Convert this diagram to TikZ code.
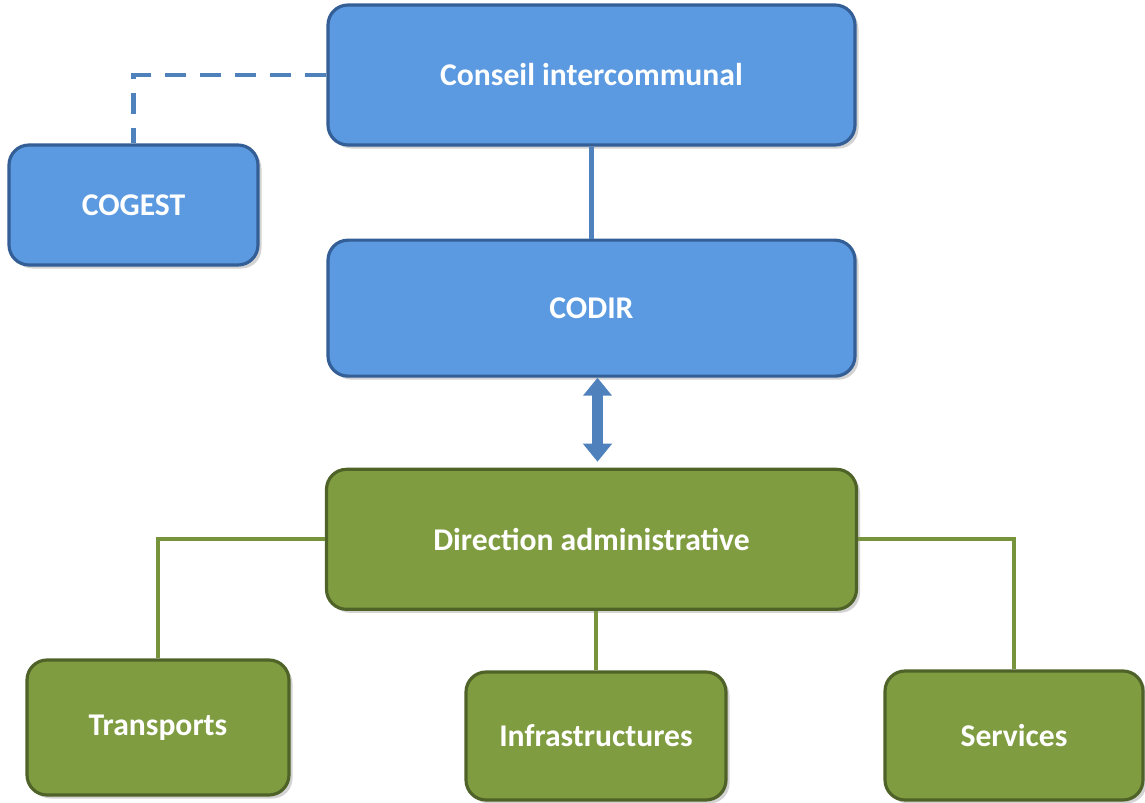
\documentclass[tikz,border=0pt]{standalone}
\usepackage{fontspec}
\setmainfont{Carlito}
\usepackage{tikz}
\usetikzlibrary{arrows.meta, positioning, calc, shadows}

\definecolor{boxblue}{RGB}{91,154,224}
\definecolor{edgeblue}{RGB}{52,94,150}
\definecolor{lineblue}{RGB}{79,129,189}
\definecolor{boxgreen}{RGB}{127,156,65}
\definecolor{edgegreen}{RGB}{79,98,40}
\definecolor{linegreen}{RGB}{119,147,60}

\begin{document}
\begin{tikzpicture}[node distance=1.8cm,
			box/.style={rounded corners=0.4cm,line width=1.8pt,text=white,
				font=\fontsize{18}{21}\selectfont\bfseries,
				drop shadow={opacity=0.35,shadow xshift=2pt,shadow yshift=-2pt}},
			blue node/.style={box,fill=boxblue,draw=edgeblue},
			green node/.style={box,fill=boxgreen,draw=edgegreen},
			blue line/.style={draw=lineblue,line width=2.4pt},
			green line/.style={draw=linegreen,line width=2.4pt}]
			
			\useasboundingbox (0,0) rectangle (22.9,-16.06);
			
			\node[blue node,minimum width=10.54cm,minimum height=2.8cm] (conseil) at (11.83,-1.5) {Conseil intercommunal};
			\node[blue node,minimum width=4.98cm,minimum height=2.4cm] (cogest) at (2.67,-4.1) {COGEST};
			\node[blue node,minimum width=10.54cm,minimum height=2.72cm] (codir) [below=1.84cm of conseil] {CODIR};
			\node[green node,minimum width=10.6cm,minimum height=2.8cm] (direction) [below=of codir] {Direction administrative};
			\node[green node,minimum width=5.24cm,minimum height=2.7cm] (transports) at (3.16,-14.55) {Transports};
			\node[green node,minimum width=5.2cm,minimum height=2.56cm] (infra) at (11.92,-14.72) {Infrastructures};
			\node[green node,minimum width=5.16cm,minimum height=2.58cm] (services) at (20.28,-14.71) {Services};
			
			% links
			\draw[blue line,dash pattern=on 12pt off 8pt] (conseil.west) -| (cogest.north);
			\draw[blue line] (conseil) -- (codir);
			\draw[draw=lineblue,line width=6.5pt,shorten >=0.12cm,
				{Triangle[width=0.56cm,length=0.36cm]}-{Triangle[width=0.56cm,length=0.36cm]}]
				([xshift=0.12cm]codir.south) -- ([xshift=0.12cm]direction.north);
			\draw[green line] (direction.west) -| (transports.north);
			\draw[green line] (infra.north) -- (infra.north |- direction.south);
			\draw[green line] (direction.east) -| (services.north);
		
		\end{tikzpicture}
\end{document}
